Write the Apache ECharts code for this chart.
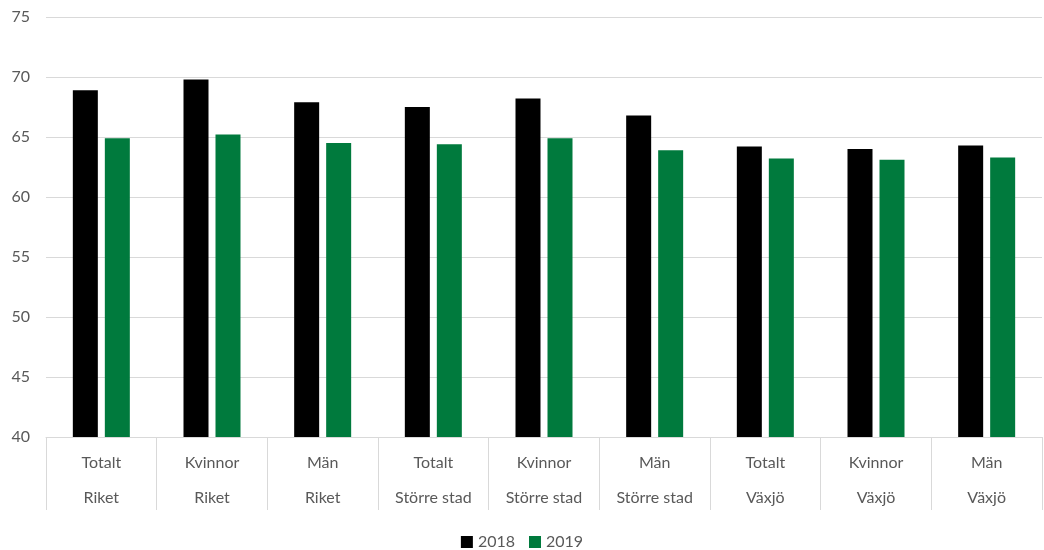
<!DOCTYPE html>
<html><head><meta charset="utf-8">
<script src="https://cdn.jsdelivr.net/npm/echarts@6/dist/echarts.min.js"></script>
<style>html,body{margin:0;padding:0;background:#fff}#c{width:1044px;height:550px}</style>
</head><body><div id="c"></div>
<script>
const groups = ['Totalt','Kvinnor','Män','Totalt','Kvinnor','Män','Totalt','Kvinnor','Män'];
const regions = ['Riket','Riket','Riket','Större stad','Större stad','Större stad','Växjö','Växjö','Växjö'];
const seriesNames = ['2018','2019'];
const values2018 = [68.9, 69.8, 67.9, 67.5, 68.2, 66.8, 64.2, 64.0, 64.3];
const values2019 = [64.9, 65.2, 64.5, 64.4, 64.9, 63.9, 63.2, 63.1, 63.3];
const yTicks = [40, 45, 50, 55, 60, 65, 70, 75];

const cats = groups.map((g,i)=>g+'\n'+regions[i]);
const font = 'Lato, "Open Sans", sans-serif';
const chart = echarts.init(document.getElementById('c'));
chart.setOption({
  animation:false,
  textStyle:{fontFamily:font},
  grid:{left:46,right:2,top:17,bottom:113},
  legend:{top:529,left:'center',itemWidth:12,itemGap:14,itemHeight:12,icon:'rect',
    textStyle:{fontSize:16,color:'#595959',fontFamily:font},data:seriesNames},
  xAxis:{type:'category',data:cats,
    axisLine:{lineStyle:{color:'#d9d9d9',width:1}},
    axisTick:{show:true,interval:0,length:73,lineStyle:{color:'#d9d9d9',width:1}},
    axisLabel:{interval:0,color:'#595959',fontSize:16,lineHeight:35,margin:8,fontFamily:font}},
  yAxis:{type:'value',min:yTicks[0],max:yTicks[yTicks.length-1],interval:5,
    axisLine:{show:false},axisTick:{show:false},
    splitLine:{lineStyle:{color:'#d9d9d9',width:1}},
    axisLabel:{color:'#595959',fontSize:16,margin:16,fontFamily:font}},
  series:[
    {name:seriesNames[0],type:'bar',data:values2018,barWidth:25,barGap:'28%',itemStyle:{color:'#000000'}},
    {name:seriesNames[1],type:'bar',data:values2019,barWidth:25,itemStyle:{color:'#007a3d'}}
  ]
});
</script></body></html>
